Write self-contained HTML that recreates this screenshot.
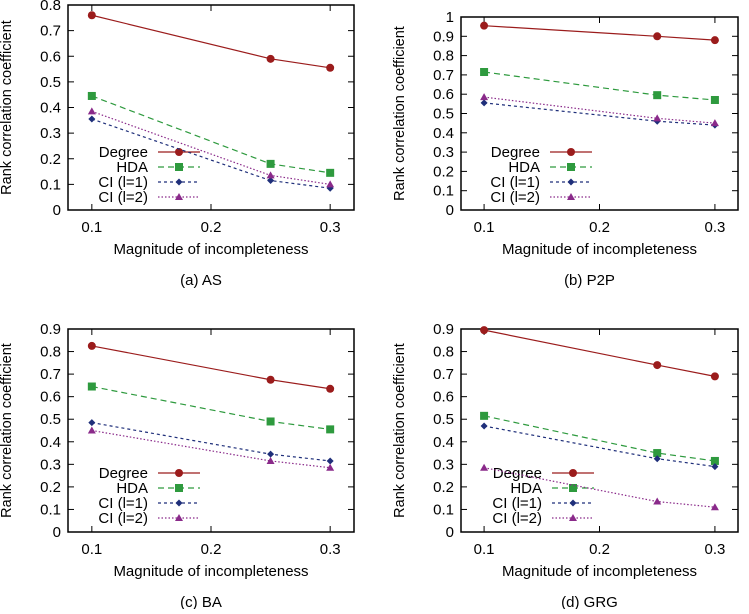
<!DOCTYPE html>
<html><head><meta charset="utf-8"><style>
body{margin:0;background:#fff;width:749px;height:609px;overflow:hidden}
svg{font-family:"Liberation Sans",sans-serif}
</style></head><body>
<svg id="c" width="749" height="609"></svg>
<script>
const xVals=[0.1,0.25,0.3];
const xTicks=[0.1,0.2,0.3];
const seriesNames=["Degree","HDA","CI (l=1)","CI (l=2)"];
const asDegree=[0.76,0.59,0.555], asHDA=[0.445,0.18,0.145], asCI1=[0.355,0.115,0.085], asCI2=[0.385,0.135,0.1];
const p2pDegree=[0.955,0.9,0.88], p2pHDA=[0.715,0.595,0.57], p2pCI1=[0.555,0.46,0.44], p2pCI2=[0.585,0.475,0.45];
const baDegree=[0.825,0.675,0.635], baHDA=[0.645,0.49,0.455], baCI1=[0.485,0.345,0.315], baCI2=[0.45,0.315,0.285];
const grgDegree=[0.895,0.74,0.69], grgHDA=[0.515,0.35,0.315], grgCI1=[0.47,0.325,0.29], grgCI2=[0.285,0.135,0.11];
const captions=["(a)   AS","(b)   P2P","(c)   BA","(d)   GRG"];
const ymaxs=[0.8,1,0.9,0.9];
const yTickLabelsA=["0","0.1","0.2","0.3","0.4","0.5","0.6","0.7","0.8"];
const yTickLabelsB=["0","0.1","0.2","0.3","0.4","0.5","0.6","0.7","0.8","0.9","1"];
const yTickLabelsC=["0","0.1","0.2","0.3","0.4","0.5","0.6","0.7","0.8","0.9"];

const NS="http://www.w3.org/2000/svg";
const svg=document.getElementById('c');
function el(t,a,p){const e=document.createElementNS(NS,t);for(const k in a)e.setAttribute(k,a[k]);(p||svg).appendChild(e);return e;}
const colors=["#9b1c1c","#2e9a3e","#1f2f7a","#8a2a8a"];
const dashes=["","6,4","3,3","1.5,2"];
const panels=[
 {L:68,R:354,T:5,B:210,data:[asDegree,asHDA,asCI1,asCI2],yl:yTickLabelsA,leg:{x:148,y:152}},
 {L:461,R:738,T:17,B:210,data:[p2pDegree,p2pHDA,p2pCI1,p2pCI2],yl:yTickLabelsB,leg:{x:540,y:152}},
 {L:68,R:354,T:329,B:532,data:[baDegree,baHDA,baCI1,baCI2],yl:yTickLabelsC,leg:{x:148,y:473}},
 {L:461,R:738,T:329,B:532,data:[grgDegree,grgHDA,grgCI1,grgCI2],yl:yTickLabelsC,leg:{x:542,y:473}}
];
function marker(g,k,x,y){
 const c=colors[k];
 if(k===0)return el('circle',{cx:x,cy:y,r:4,fill:c},g);
 if(k===1)return el('rect',{x:x-4,y:y-4,width:8,height:8,fill:c},g);
 if(k===2)return el('polygon',{points:`${x},${y-3.5} ${x+3.5},${y} ${x},${y+3.5} ${x-3.5},${y}`,fill:c},g);
 return el('polygon',{points:`${x},${y-4} ${x+4},${y+3} ${x-4},${y+3}`,fill:c},g);
}
panels.forEach((p,i)=>{
 const g=el('g',{});
 
 
 const ymax=ymaxs[i];
 const sx=v=>p.L+(v-0.08)/(0.24)*(p.R-p.L);
 const sy=v=>p.B-v/ymax*(p.B-p.T);
 el('rect',{x:p.L,y:p.T,width:p.R-p.L,height:p.B-p.T,fill:'none',stroke:'#000','stroke-width':1.5},g);
 p.yl.forEach((lab,j)=>{
  const v=j*0.1,y=sy(v);
  el('line',{x1:p.L,x2:p.L+6,y1:y,y2:y,stroke:'#000'},g);
  el('line',{x1:p.R,x2:p.R-6,y1:y,y2:y,stroke:'#000'},g);
  const t=el('text',{x:p.L-7,y:y+5,'text-anchor':'end','font-size':15},g);t.textContent=lab;
  
 });
 xTicks.forEach(v=>{
  const x=sx(v);
  el('line',{x1:x,x2:x,y1:p.B,y2:p.B-6,stroke:'#000'},g);
  el('line',{x1:x,x2:x,y1:p.T,y2:p.T+6,stroke:'#000'},g);
  const t=el('text',{x:x,y:p.B+22,'text-anchor':'middle','font-size':15},g);t.textContent=v.toFixed(1);
  
 });
 const xt=el('text',{x:(p.L+p.R)/2,y:p.B+44,'text-anchor':'middle','font-size':15},g);xt.textContent="Magnitude of incompleteness";
 
 const yt=el('text',{transform:`translate(${p.L-57},${(p.T+p.B)/2}) rotate(-90)`,'text-anchor':'middle','font-size':14.5},g);yt.textContent="Rank correlation coefficient";
 
 const cap=el('text',{x:(p.L+p.R)/2-10,y:p.B+75,'text-anchor':'middle','font-size':15,'xml:space':'preserve'},g);cap.textContent=captions[i];
 
 p.data.forEach((arr,k)=>{
  const pts=arr.map((v,j)=>sx(xVals[j])+','+sy(v)).join(' ');
  const ln=el('polyline',{points:pts,fill:'none',stroke:colors[k],'stroke-width':1.2,'stroke-dasharray':dashes[k]},g);
  
  arr.forEach((v,j)=>{const m=marker(g,k,sx(xVals[j]),sy(v));});
  const ly=p.leg.y+k*15;
  const lt=el('text',{x:p.leg.x,y:ly+5,'text-anchor':'end','font-size':15},g);lt.textContent=seriesNames[k];
  
  el('line',{x1:p.leg.x+10,x2:p.leg.x+52,y1:ly,y2:ly,stroke:colors[k],'stroke-width':1.2,'stroke-dasharray':dashes[k]},g);
  marker(g,k,p.leg.x+31,ly);
 });
});
</script>
</body></html>
